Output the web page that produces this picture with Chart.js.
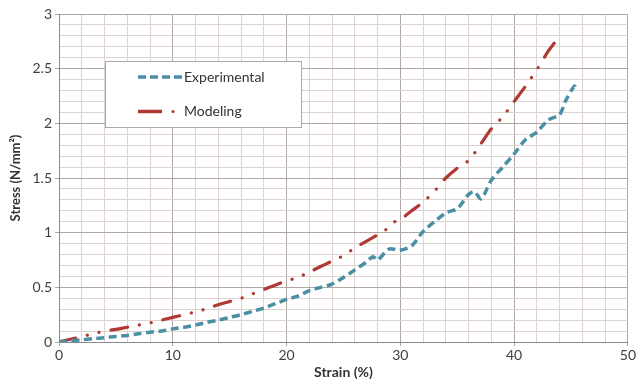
<!DOCTYPE html>
<html>
<head>
<meta charset="utf-8">
<script src="https://cdn.jsdelivr.net/npm/chart.js@4.4.1/dist/chart.umd.min.js"></script>
<style>
  html, body { margin: 0; padding: 0; background: #fff; }
  #wrap { width: 637px; height: 381px; position: relative; }
</style>
</head>
<body>
<div id="wrap"><canvas id="stressChart"></canvas></div>
<script>
// values
const expStrain = [0, 1, 2, 3, 4, 5, 6, 7, 8, 9, 10, 11, 12, 13, 14, 15, 16, 17, 18, 19, 20, 21, 22, 23, 24, 25, 26, 27, 27.6, 28, 29, 30, 31, 32, 33, 34, 35, 35.5, 36, 36.5, 37.1, 38, 39, 40, 41, 42, 43, 44, 44.5, 45.3, 45.5];
const expStress = [0, 0.01, 0.02, 0.03, 0.04, 0.05, 0.06, 0.075, 0.09, 0.1, 0.12, 0.135, 0.155, 0.18, 0.2, 0.225, 0.25, 0.28, 0.31, 0.35, 0.39, 0.42, 0.47, 0.5, 0.53, 0.59, 0.66, 0.73, 0.78, 0.75, 0.85, 0.84, 0.88, 1.01, 1.1, 1.18, 1.22, 1.28, 1.35, 1.375, 1.31, 1.48, 1.6, 1.72, 1.85, 1.92, 2.03, 2.08, 2.2, 2.34, 2.3];

const modStrain = [0, 1, 2, 3, 4, 5, 6, 7, 8, 9, 10, 11, 12, 13, 14, 15, 16, 17, 18, 19, 20, 21, 22, 23, 24, 25, 26, 27, 28, 28.5, 29, 29.5, 30, 31, 32, 33, 34, 35, 36, 37, 38, 39, 40, 41, 42, 43, 43.8];
const modStress = [0, 0.025, 0.05, 0.075, 0.1, 0.115, 0.135, 0.155, 0.175, 0.2, 0.225, 0.25, 0.275, 0.305, 0.34, 0.37, 0.4, 0.44, 0.48, 0.52, 0.56, 0.59, 0.64, 0.69, 0.74, 0.79, 0.86, 0.92, 0.98, 1.01, 1.05, 1.1, 1.12, 1.2, 1.28, 1.38, 1.5, 1.59, 1.66, 1.8, 1.95, 2.06, 2.2, 2.34, 2.49, 2.66, 2.77];

const seriesNames = ['Experimental', 'Modeling'];
const xTitle = 'Strain (%)';
const yTitle = 'Stress (N/mm\u00B2)';

const blue = '#4a8fa3';
const red = '#b03a33';
const minorGrid = '#ddd3d1';
const majorGrid = '#b2a6a2';
const font = "Lato, 'Open Sans', sans-serif";

const toPoints = (xs, ys) => xs.map((x, i) => ({ x: x, y: ys[i] }));

// legend box drawn inside the plot, like the original
const boxLegend = {
    id: 'boxLegend',
    afterDraw(chart) {
        const c = chart.ctx;
        c.save();
        c.fillStyle = '#fff';
        c.fillRect(105, 61, 197, 67);
        c.strokeStyle = '#555';
        c.lineWidth = 1;
        c.setLineDash([1, 1]);
        c.strokeRect(105.5, 61.5, 196, 66);

        c.lineWidth = 3.5;
        c.strokeStyle = blue;
        c.setLineDash([8, 4]);
        c.beginPath();
        c.moveTo(138, 77);
        c.lineTo(182, 77);
        c.stroke();

        c.setLineDash([]);
        c.strokeStyle = red;
        c.lineWidth = 3.5;
        c.beginPath();
        c.moveTo(138, 111.5);
        c.lineTo(162, 111.5);
        c.stroke();
        c.fillStyle = red;
        c.beginPath();
        c.arc(173, 111.5, 1.6, 0, Math.PI * 2);
        c.fill();

        c.fillStyle = '#333';
        c.font = '14px ' + font;
        c.textBaseline = 'middle';
        c.fillText(seriesNames[0], 184, 77);
        c.fillText(seriesNames[1], 184, 111);
        c.restore();
    }
};

new Chart(document.getElementById('stressChart'), {
    type: 'scatter',
    data: {
        datasets: [
            {
                label: seriesNames[0],
                data: toPoints(expStrain, expStress),
                showLine: true,
                borderColor: blue,
                borderWidth: 3.5,
                borderDash: [8, 4.5],
                tension: 0.3,
                pointRadius: 0
            },
            {
                label: seriesNames[1],
                data: toPoints(modStrain, modStress),
                showLine: true,
                borderColor: red,
                borderWidth: 3.2,
                borderDash: [17, 12, 0.1, 12, 0.1, 12],
                borderCapStyle: 'round',
                tension: 0.3,
                pointRadius: 0
            }
        ]
    },
    options: {
        responsive: true,
        maintainAspectRatio: false,
        animation: false,
        layout: { padding: { left: 0, right: 9, top: 14, bottom: 0 } },
        plugins: {
            legend: { display: false },
            tooltip: { enabled: false }
        },
        scales: {
            x: {
                type: 'linear',
                min: 0,
                max: 50,
                afterFit: s => { s.height = 39; },
                ticks: {
                    stepSize: 2,
                    autoSkip: false,
                    maxRotation: 0,
                    padding: 1,
                    color: '#404040',
                    font: { family: font, size: 14 },
                    callback: v => (v % 10 === 0 ? v : '')
                },
                grid: {
                    color: ctx => (ctx.tick && ctx.tick.value % 10 === 0 ? majorGrid : minorGrid),
                    tickColor: ctx => (ctx.tick && ctx.tick.value % 10 === 0 ? majorGrid : 'rgba(0,0,0,0)'),
                    tickLength: 4
                },
                border: { color: '#8a8a8a' },
                title: {
                    display: true,
                    text: xTitle,
                    color: '#333',
                    padding: { top: 0, bottom: 0 },
                    font: { family: font, size: 14, weight: 'bold' }
                }
            },
            y: {
                min: 0,
                max: 3,
                afterFit: s => { s.width = 59; },
                ticks: {
                    stepSize: 0.1,
                    autoSkip: false,
                    padding: 3,
                    color: '#404040',
                    font: { family: font, size: 14 },
                    callback: v => {
                        const r = Math.round(v * 10);
                        return r % 5 === 0 ? String(r / 10) : '';
                    }
                },
                grid: {
                    color: ctx => (ctx.tick && Math.round(ctx.tick.value * 10) % 5 === 0 ? majorGrid : minorGrid),
                    tickColor: ctx => (ctx.tick && Math.round(ctx.tick.value * 10) % 5 === 0 ? majorGrid : 'rgba(0,0,0,0)'),
                    tickLength: 4
                },
                border: { color: '#8a8a8a' },
                title: {
                    display: true,
                    text: yTitle,
                    color: '#333',
                    padding: { top: 8, bottom: 4 },
                    font: { family: font, size: 13, weight: 'bold' }
                }
            }
        }
    },
    plugins: [boxLegend]
});
</script>
</body>
</html>
